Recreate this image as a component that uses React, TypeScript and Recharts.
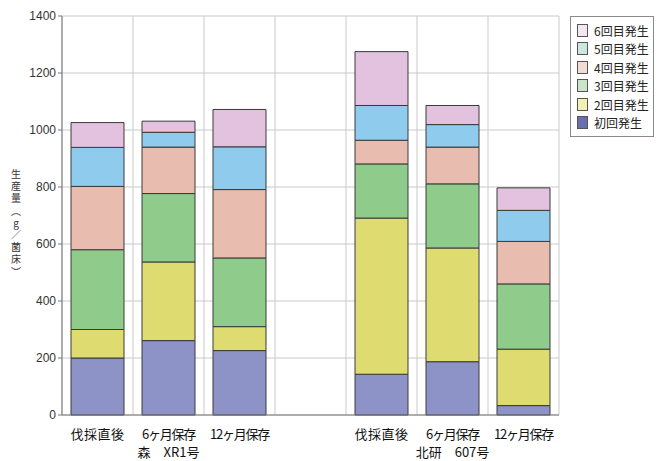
import React from 'react'
import { Bar, BarChart, CartesianGrid, XAxis, YAxis } from 'recharts'

const categories = ['伐採直後', '6ヶ月保存', '12ヶ月保存', '', '伐採直後', '6ヶ月保存', '12ヶ月保存']
const groupLabels = ['', '森　XR1号', '', '', '', '北研　607号', '']

const first = [200, 261, 226, 0, 143, 187, 33]
const second = [100, 276, 84, 0, 548, 399, 198]
const third = [280, 240, 241, 0, 190, 225, 229]
const fourth = [222, 163, 240, 0, 83, 129, 149]
const fifth = [137, 52, 150, 0, 122, 79, 109]
const sixth = [87, 39, 131, 0, 189, 67, 79]

const yTicks = [0, 200, 400, 600, 800, 1000, 1200, 1400]
const gridSlots = [0, 1, 2, 3, 4, 5, 6, 7]
const yLabelChars = ['生', '産', '量', '︵', 'g', '／', '菌', '床', '︶']

const SERIES = [
	{ key: 'first', name: '初回発生', fill: '#8d93c6', swatch: '#6c6fae' },
	{ key: 'second', name: '2回目発生', fill: '#dedc70', swatch: '#f2f0b4' },
	{ key: 'third', name: '3回目発生', fill: '#8fcb8a', swatch: '#c9e4c8' },
	{ key: 'fourth', name: '4回目発生', fill: '#e8bcae', swatch: '#f1dcd6' },
	{ key: 'fifth', name: '5回目発生', fill: '#8ecbec', swatch: '#cde6e0' },
	{ key: 'sixth', name: '6回目発生', fill: '#e2c2de', swatch: '#f2e6f0' },
]

const data = categories.map((c, i) => ({
	cat: c || ' ',
	first: first[i] || null,
	second: second[i] || null,
	third: third[i] || null,
	fourth: fourth[i] || null,
	fifth: fifth[i] || null,
	sixth: sixth[i] || null,
}))

const FONT = '"Noto Sans CJK JP", "Noto Sans", sans-serif'

function CategoryTick(props: any) {
	const { x, y, index } = props
	const label = categories[index]
	const group = groupLabels[index]
	return (
		<g>
			<text
				x={x}
				y={y + 16}
				textAnchor='middle'
				fontSize={13}
				letterSpacing={label.length > 4 ? -1.2 : 0.5}
				fontFamily={FONT}
				fill='#111'
			>
				{label}
			</text>
			{group && (
				<text x={x} y={y + 34} textAnchor='middle' fontSize={13} fontFamily={FONT} fill='#111'>
					{group}
				</text>
			)}
		</g>
	)
}

function LegendBox() {
	return (
		<div
			style={{
				position: 'absolute',
				left: 570,
				top: 16,
				border: '1px solid #8a8a8a',
				background: '#fff',
				padding: '4px 0 4px 6px',
				width: 84,
				fontFamily: FONT,
				fontSize: 12,
				color: '#222',
				boxSizing: 'border-box',
			}}
		>
			{[...SERIES].reverse().map((s) => (
				<div key={s.key} style={{ display: 'flex', alignItems: 'center', height: 18.5 }}>
					<span
						style={{
							display: 'inline-block',
							width: 9,
							height: 11,
							border: '1px solid #555',
							background: s.swatch,
							marginRight: 6,
						}}
					/>
					{s.name}
				</div>
			))}
		</div>
	)
}

function YLabel() {
	return (
		<g>
			{yLabelChars.map((ch, i) => (
				<text key={i} x={16} y={178 + i * 12.2} fontSize={10} fontFamily={FONT} fill='#333' textAnchor='middle'>
					{ch}
				</text>
			))}
		</g>
	)
}

export default function App() {
	return (
		<div style={{ position: 'absolute', left: 0, top: 0, width: 664, height: 461, background: '#fff' }}>
			<BarChart width={664} height={461} data={data} margin={{ top: 16, right: 105, bottom: 0, left: 0 }} barSize={53}>
				<CartesianGrid
					stroke='#c9c9c9'
					verticalCoordinatesGenerator={({ offset }: any) =>
						gridSlots.map((s) => offset.left + (offset.width * s) / categories.length)
					}
				/>
				<XAxis
					dataKey='cat'
					interval={0}
					height={46}
					tick={<CategoryTick />}
					tickLine={false}
					axisLine={{ stroke: '#777' }}
				/>
				<YAxis
					domain={[0, 1400]}
					ticks={yTicks}
					width={62}
					tick={{ fill: '#333', fontSize: 12, fontFamily: '"Liberation Sans", Arial, sans-serif' }}
					tickSize={4}
					tickLine={{ stroke: '#777' }}
					axisLine={{ stroke: '#777' }}
					interval={0}
				/>
				{SERIES.map((s) => (
					<Bar
						key={s.key}
						dataKey={s.key}
						name={s.name}
						stackId='a'
						fill={s.fill}
						stroke='#3a3a3a'
						strokeWidth={1}
						isAnimationActive={false}
					/>
				))}
				<YLabel />
			</BarChart>
			<LegendBox />
		</div>
	)
}
